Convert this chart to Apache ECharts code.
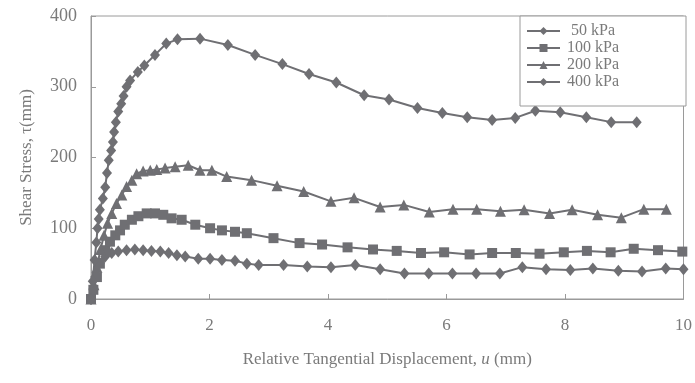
<!DOCTYPE html>
<html>
<head>
<meta charset="utf-8">
<style>
html, body { margin: 0; padding: 0; background: #fff; }
#chart-panel { width: 695px; height: 383px; }
</style>
<script src="https://cdn.jsdelivr.net/npm/echarts@6/dist/echarts.min.js"></script>
</head>
<body>
<div id="chart-panel"></div>
<script type="text/javascript">
// series names (legend labels)
var names = [' 50 kPa', '100 kPa', '200 kPa', '400 kPa'];
var xTicks = [0, 2, 4, 6, 8, 10];

// [displacement mm, shear stress]
var p50 = [[0,0],[0.04,14],[0.07,31],[0.15,51],[0.24,60],[0.35,65],[0.46,67],[0.6,69],[0.74,70],[0.88,69],
  [1.02,68],[1.17,67],[1.31,65],[1.45,62],[1.59,60],[1.81,57],[2.01,57],[2.21,55],[2.43,54],[2.63,50],
  [2.83,48],[3.25,48],[3.65,46],[4.05,45],[4.46,48],[4.88,42],[5.29,36],[5.7,36],[6.1,36],[6.5,36],
  [6.9,36],[7.28,45],[7.68,42],[8.09,41],[8.47,43],[8.9,40],[9.3,39],[9.7,43],[10,42]];
var p100 = [[0,0],[0.04,13],[0.1,31],[0.15,50],[0.24,69],[0.32,81],[0.41,90],[0.49,97],[0.57,105],[0.69,112],
  [0.8,117],[0.94,121],[1.08,121],[1.22,119],[1.36,114],[1.53,112],[1.76,105],[2.01,100],[2.21,97],[2.43,95],
  [2.63,93],[3.08,86],[3.52,79],[3.9,77],[4.33,73],[4.76,70],[5.16,68],[5.57,65],[5.96,66],[6.39,63],
  [6.77,65],[7.17,65],[7.57,64],[7.98,66],[8.37,68],[8.77,66],[9.16,71],[9.57,69],[9.98,67]];
var p200 = [[0,0],[0.05,20],[0.1,45],[0.16,70],[0.22,90],[0.28,107],[0.35,121],[0.43,135],[0.52,147],[0.6,159],
  [0.69,168],[0.77,177],[0.88,181],[1.0,182],[1.11,183],[1.25,185],[1.42,187],[1.64,189],[1.84,182],[2.04,182],
  [2.29,173],[2.71,168],[3.14,160],[3.59,152],[4.05,138],[4.44,143],[4.88,130],[5.28,133],[5.71,123],[6.11,127],
  [6.51,127],[6.91,124],[7.31,126],[7.74,121],[8.12,126],[8.55,119],[8.95,115],[9.33,127],[9.71,127]];
var p400 = [[0,0],[0.03,25],[0.06,55],[0.09,80],[0.11,100],[0.13,113],[0.15,126],[0.2,142],[0.24,158],[0.27,178],
  [0.3,196],[0.34,210],[0.37,222],[0.39,236],[0.42,250],[0.46,265],[0.51,276],[0.55,287],[0.6,300],[0.66,309],
  [0.79,321],[0.9,330],[1.08,345],[1.27,361],[1.46,367],[1.84,368],[2.31,359],[2.77,345],[3.23,332],[3.68,318],
  [4.14,306],[4.61,288],[5.03,282],[5.51,270],[5.93,263],[6.35,257],[6.77,253],[7.16,256],[7.5,266],[7.92,264],
  [8.36,257],[8.78,250],[9.21,250]];

var seriesData = [p50, p100, p200, p400];
var symbols = ['diamond', 'rect', 'triangle', 'diamond'];
var symbolSizes = [[10, 12], 10, 11, [10, 12]];

var gray = '#6f6f73';
var textGray = '#7a7a7a';
var serif = '"Liberation Serif", "DejaVu Serif", serif';

var myChart = echarts.init(document.getElementById('chart-panel'));

var series = [];
for (var i = 0; i < names.length; i++) {
    series.push({
        name: names[i],
        type: 'line',
        data: seriesData[i],
        symbol: symbols[i],
        symbolSize: symbolSizes[i],
        showAllSymbol: true,
        lineStyle: { color: gray, width: 2 },
        itemStyle: { color: gray },
        animation: false
    });
}

var option = {
    backgroundColor: '#fff',
    textStyle: { fontFamily: serif },
    grid: {
        left: 91, right: 9, top: 16, bottom: 84,
        show: true, borderColor: '#9a9a9a', borderWidth: 1
    },
    legend: {
        orient: 'vertical',
        left: 520, top: 16,
        data: names,
        itemWidth: 33, itemHeight: 10, itemGap: 1,
        padding: [7, 67, 16, 6],
        backgroundColor: '#fff',
        borderColor: '#9a9a9a', borderWidth: 1,
        textStyle: { fontFamily: serif, fontSize: 16, color: textGray, padding: [0, 0, 0, 2] }
    },
    xAxis: {
        type: 'value',
        min: 0, max: 10, interval: 2,
        name: 'Relative Tangential Displacement, {i|u} (mm)',
        nameLocation: 'middle',
        nameGap: 52,
        nameTextStyle: {
            fontFamily: serif, fontSize: 17, color: textGray,
            rich: { i: { fontFamily: serif, fontSize: 17, fontStyle: 'italic', color: textGray } }
        },
        axisLine: { lineStyle: { color: '#9a9a9a', width: 1 } },
        axisTick: { inside: true, length: 5, lineStyle: { color: '#9a9a9a' } },
        axisLabel: { fontFamily: serif, fontSize: 17, color: textGray, margin: 18,
            formatter: function (v) { return xTicks.indexOf(v) >= 0 ? String(v) : ''; } },
        splitLine: { show: false }
    },
    yAxis: {
        type: 'value',
        min: 0, max: 400, interval: 100,
        name: 'Shear Stress, τ(mm)',
        nameLocation: 'middle',
        nameGap: 56,
        nameTextStyle: { fontFamily: serif, fontSize: 17, color: textGray },
        axisLine: { show: true, lineStyle: { color: '#9a9a9a', width: 1 } },
        axisTick: { show: true, inside: true, length: 5, lineStyle: { color: '#9a9a9a' } },
        axisLabel: { fontFamily: serif, fontSize: 18, color: textGray, margin: 14 },
        splitLine: { show: false }
    },
    series: series
};

myChart.setOption(option);
</script>
</body>
</html>
